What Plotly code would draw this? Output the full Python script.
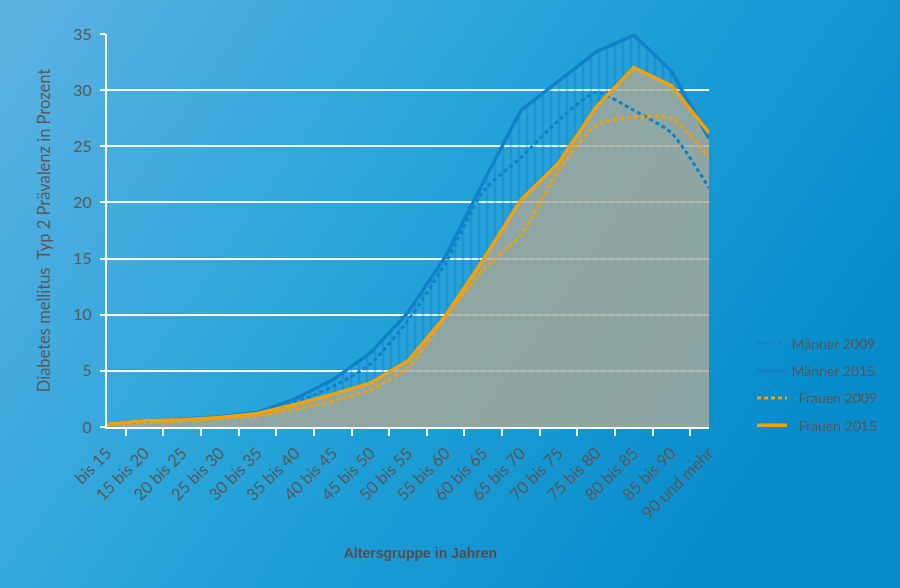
import base64
import plotly.graph_objects as go

# age groups and prevalence (%)
age_groups = ["bis 15", "15 bis 20", "20 bis 25", "25 bis 30", "30 bis 35", "35 bis 40",
              "40 bis 45", "45 bis 50", "50 bis 55", "55 bis 60", "60 bis 65", "65 bis 70",
              "70 bis 75", "75 bis 80", "80 bis 85", "85 bis 90", "90 und mehr"]
maenner_2009 = [0.2, 0.45, 0.6, 0.8, 1.1, 2.2, 3.6, 5.6, 9.5, 14.6, 21.0, 24.0, 27.3, 29.8, 28.2, 26.2, 21.3]
maenner_2015 = [0.25, 0.55, 0.7, 0.9, 1.3, 2.5, 4.2, 6.6, 10.2, 15.2, 21.8, 28.2, 30.8, 33.4, 34.9, 31.7, 25.7]
frauen_2009 = [0.2, 0.4, 0.55, 0.75, 1.0, 1.6, 2.3, 3.3, 5.3, 9.8, 14.0, 17.1, 22.8, 26.9, 27.6, 27.5, 24.0]
frauen_2015 = [0.25, 0.55, 0.65, 0.85, 1.2, 2.0, 2.9, 3.9, 5.9, 9.9, 14.9, 20.2, 23.5, 28.5, 32.0, 30.4, 26.2]

BLUE = "#0f82c8"
ORANGE = "#f1a10c"
TXT = "#5a5a5a"
FONT = "Lato"

# background gradient as an svg image
svg = """<svg xmlns='http://www.w3.org/2000/svg' width='900' height='588'>
<defs><linearGradient id='g' x1='0' y1='0' x2='1' y2='0.45'>
<stop offset='0' stop-color='#5eb2e2'/><stop offset='0.5' stop-color='#26a4da'/>
<stop offset='1' stop-color='#078ccb'/></linearGradient></defs>
<rect width='900' height='588' fill='url(#g)'/></svg>"""
bg_src = "data:image/svg+xml;base64," + base64.b64encode(svg.encode()).decode()

L, R, T, B = 107, 191, 34, 161
pw, ph = 900 - L - R, 588 - T - B

fig = go.Figure()

# striped blue area under Männer 2015
fig.add_trace(go.Scatter(x=age_groups, y=maenner_2015, mode="lines", line=dict(width=0),
                         fill="tozeroy", fillcolor="rgba(60,170,220,0.15)",
                         fillpattern=dict(shape="|", size=8, solidity=0.3,
                                          fgcolor="rgba(10,115,185,0.6)",
                                          bgcolor="rgba(70,175,225,0.15)"),
                         showlegend=False, hoverinfo="skip"))
# grey area under Frauen 2015
fig.add_trace(go.Scatter(x=age_groups, y=frauen_2015, mode="lines", line=dict(width=0),
                         fill="tozeroy", fillcolor="rgba(170,170,152,0.8)",
                         showlegend=False, hoverinfo="skip"))

fig.add_trace(go.Scatter(x=age_groups, y=maenner_2009, mode="lines", name="Männer 2009",
                         line=dict(color=BLUE, width=3, dash="4px,3px", shape="spline", smoothing=0.6),
                         legendgroup="a"))
fig.add_trace(go.Scatter(x=age_groups, y=maenner_2015, mode="lines", name="Männer 2015",
                         line=dict(color=BLUE, width=3.5), legendgroup="b"))
fig.add_trace(go.Scatter(x=age_groups, y=frauen_2009, mode="lines", name="  Frauen 2009",
                         line=dict(color=ORANGE, width=3, dash="4px,3px", shape="spline", smoothing=0.6),
                         legendgroup="c"))
fig.add_trace(go.Scatter(x=age_groups, y=frauen_2015, mode="lines", name="  Frauen 2015",
                         line=dict(color=ORANGE, width=3.5), legendgroup="d"))

fig.update_layout(
    width=900, height=588,
    margin=dict(l=L, r=R, t=T, b=B),
    paper_bgcolor="#2aa5da",
    plot_bgcolor="rgba(0,0,0,0)",
    font=dict(family=FONT, color=TXT, size=14),
    images=[dict(source=bg_src, xref="paper", yref="paper",
                 x=-L / pw, y=1 + T / ph, sizex=900 / pw, sizey=588 / ph,
                 sizing="stretch", layer="below", xanchor="left", yanchor="top")],
    xaxis=dict(showgrid=False, showline=True, linecolor="white", linewidth=2,
               ticks="outside", tickson="boundaries", ticklen=7, tickwidth=2, tickcolor="white",
               tickangle=-45, tickfont=dict(size=16.5, color=TXT), ticklabelstandoff=8,
               fixedrange=True),
    yaxis=dict(range=[0, 35], dtick=5, showgrid=True, gridcolor="white", gridwidth=2,
               showline=True, linecolor="white", linewidth=2, zeroline=False,
               ticks="outside", ticklen=5, tickwidth=2, tickcolor="white",
               tickfont=dict(size=16, color=TXT), ticklabelstandoff=5,
               title=dict(text="Diabetes mellitus  Typ 2 Prävalenz in Prozent",
                          font=dict(size=16.5, color=TXT), standoff=18)),
    legend=dict(x=(752 - L) / pw, y=(427 - 328) / ph, xanchor="left", yanchor="top",
                bgcolor="rgba(0,0,0,0)", font=dict(size=14, color=TXT),
                tracegroupgap=6, itemwidth=30),
    annotations=[dict(text="<b>Altersgruppe in Jahren</b>", xref="paper", yref="paper",
                      x=(420 - L) / pw, y=(427 - 553) / ph, yanchor="middle", showarrow=False,
                      font=dict(family="Liberation Sans Narrow, Arial", size=14, color="#5a4e50"))],
)

fig.write_html("out.html", config={"displayModeBar": False},
               post_script="document.body.style.margin='0';document.body.style.overflow='hidden';")
